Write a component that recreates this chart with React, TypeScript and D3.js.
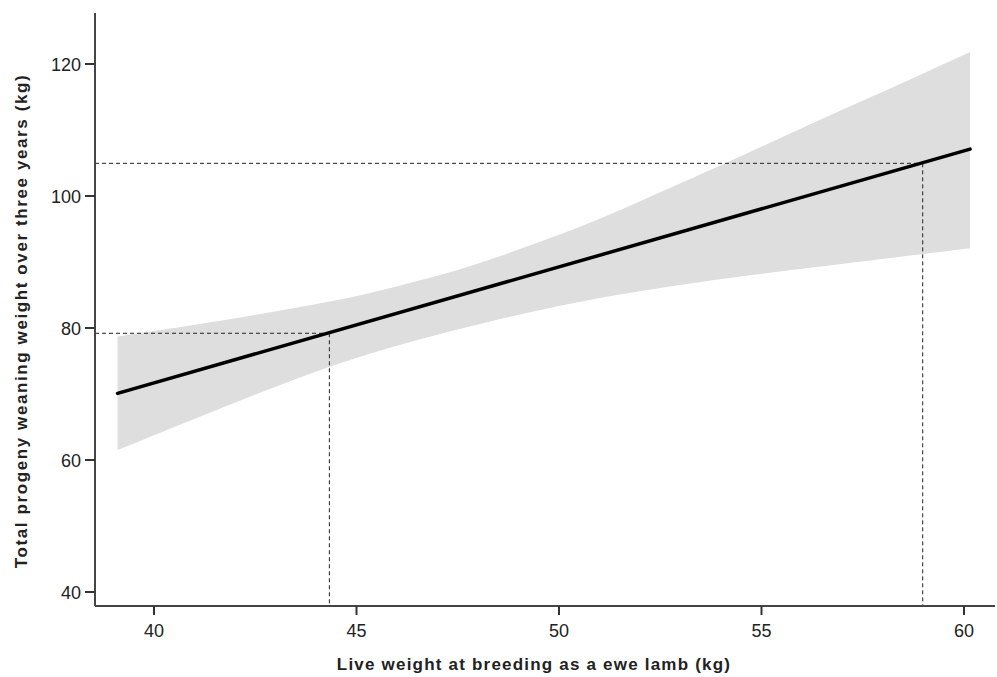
import React from "react";
import * as d3 from "d3";

const xTicks = [40, 45, 50, 55, 60];
const yTicks = [40, 60, 80, 100, 120];

const upperX = [39.1, 41.8, 44.6, 45.8, 47.1, 48.3, 49.5, 50.7, 52.0, 54.0, 56.7, 58.3, 60.15];
const upperY = [78.7, 81.2, 84.2, 86.0, 88.0, 90.3, 93.0, 95.7, 99.2, 104.6, 112.3, 116.6, 121.8];
const lowerX = [39.1, 41.9, 44.7, 47.1, 48.3, 49.5, 50.6, 52.0, 54.0, 56.7, 58.3, 60.15];
const lowerY = [61.5, 68.5, 75.2, 79.2, 81.0, 82.7, 84.1, 85.6, 87.5, 89.5, 90.7, 92.1];
const fitX = [39.1, 60.15];
const fitY = [70.1, 107.1];
const refX = [44.33, 58.98];
const refY = [79.2, 104.95];

const W = 997;
const H = 677;

export default function App() {
  const x = d3.scaleLinear().domain([40, 60]).range([154, 964]);
  const y = d3.scaleLinear().domain([40, 120]).range([592, 64]);
  const axisX0 = 95;
  const axisY0 = 606;

  const upPts = upperX.map((v, i) => [x(v), y(upperY[i])] as [number, number]);
  const lowPts = lowerX.map((v, i) => [x(v), y(lowerY[i])] as [number, number]).reverse();
  const gen = d3.line<[number, number]>().curve(d3.curveBasis);
  const upPath = gen(upPts) as string;
  const lowRevPath = gen(lowPts) as string;
  const band = upPath + "L" + lowRevPath.slice(1) + "Z";

  const fitLine = d3.line<number>().x(d => x(d)).y((d, i) => y(fitY[i]))(fitX) as string;

  const font = "Arial, 'Liberation Sans', sans-serif";
  return (
    <svg width={W} height={H} style={{ position: "absolute", left: 0, top: 0, background: "#fff" }} fontFamily={font}>
      <path d={band} fill="#dedede" stroke="none" />
      {refX.map((rx, i) => (
        <g key={i} stroke="#222" strokeWidth={1} strokeDasharray="4,3" fill="none">
          <line x1={axisX0} x2={x(rx)} y1={y(refY[i])} y2={y(refY[i])} />
          <line x1={x(rx)} x2={x(rx)} y1={y(refY[i])} y2={axisY0} />
        </g>
      ))}
      <path d={fitLine} stroke="#000" strokeWidth={3.5} fill="none" strokeLinecap="round" />
      <line x1={axisX0} x2={axisX0} y1={13} y2={axisY0} stroke="#444" strokeWidth={2} />
      <line x1={axisX0} x2={995} y1={axisY0} y2={axisY0} stroke="#444" strokeWidth={2} />
      {yTicks.map(t => (
        <g key={t}>
          <line x1={85} x2={axisX0} y1={y(t)} y2={y(t)} stroke="#333" strokeWidth={2} />
          <text x={81} y={y(t) + 6.5} textAnchor="end" fontSize={18} fill="#222">{t}</text>
        </g>
      ))}
      {xTicks.map(t => (
        <g key={t}>
          <line x1={x(t)} x2={x(t)} y1={axisY0} y2={615} stroke="#333" strokeWidth={2} />
          <text x={x(t)} y={637} textAnchor="middle" fontSize={18} fill="#222">{t}</text>
        </g>
      ))}
      <text x={534} y={670} textAnchor="middle" fontSize={17} fontWeight="bold" letterSpacing={1.2} fill="#222">
        Live weight at breeding as a ewe lamb (kg)
      </text>
      <text transform="translate(27,321) rotate(-90)" textAnchor="middle" fontSize={17} fontWeight="bold" letterSpacing={1.6} fill="#222">
        Total progeny weaning weight over three years (kg)
      </text>
    </svg>
  );
}
